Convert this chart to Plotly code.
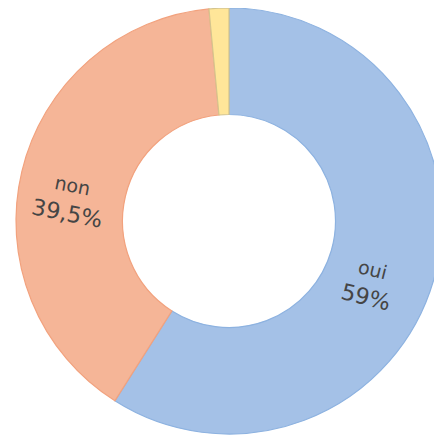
import math
import plotly.graph_objects as go

categories = ["oui", "non", "autre"]
values = [59, 39.5, 1.5]
pct_labels = ["59%", "39,5%", ""]
shown = [True, True, False]

fill_colors = ["#A4C1E7", "#F5B597", "#FFE699"]
line_colors = ["#8DB2E0", "#F2A27E", "#D4C48E"]

# figure geometry (page has an 8px body margin)
W, H = 434, 429
CX, CY, R = 221, 213, 213

fig = go.Figure(
    go.Pie(
        labels=categories,
        values=values,
        textinfo="none",
        hoverinfo="label+percent",
        sort=False,
        direction="clockwise",
        rotation=0,
        hole=0.5,
        marker=dict(colors=fill_colors, line=dict(color=line_colors, width=1.2)),
        showlegend=False,
        domain=dict(x=[(CX - R) / W, (CX + R) / W], y=[(H - CY - R) / H, (H - CY + R) / H]),
    )
)

# data labels placed around the ring, from the slice centroids
label_r = [154, 161, 0]
label_nudge = [8, -6, 0]
label_tilt = [14, 11, 0]
total = sum(values)
cum = 0
for c, v, p, s, lr, nd, tl in zip(categories, values, pct_labels, shown, label_r, label_nudge, label_tilt):
    mid = (cum + v / 2) / total * 360
    cum += v
    if not s:
        continue
    a = math.radians(mid + nd)
    px = CX + lr * math.sin(a)
    py = CY - lr * math.cos(a)
    fig.add_annotation(
        x=px / W,
        y=1 - py / H,
        xref="paper",
        yref="paper",
        text=f"<span style='font-size:19px'>{c}</span><br>{p}",
        showarrow=False,
        textangle=tl,
        font=dict(family="DejaVu Sans", size=22.5, color="#454545"),
        xanchor="center",
        yanchor="middle",
    )

fig.update_layout(
    width=W,
    height=H,
    margin=dict(l=0, r=0, t=0, b=0),
    paper_bgcolor="white",
    plot_bgcolor="white",
)

fig.write_html("out.html")
